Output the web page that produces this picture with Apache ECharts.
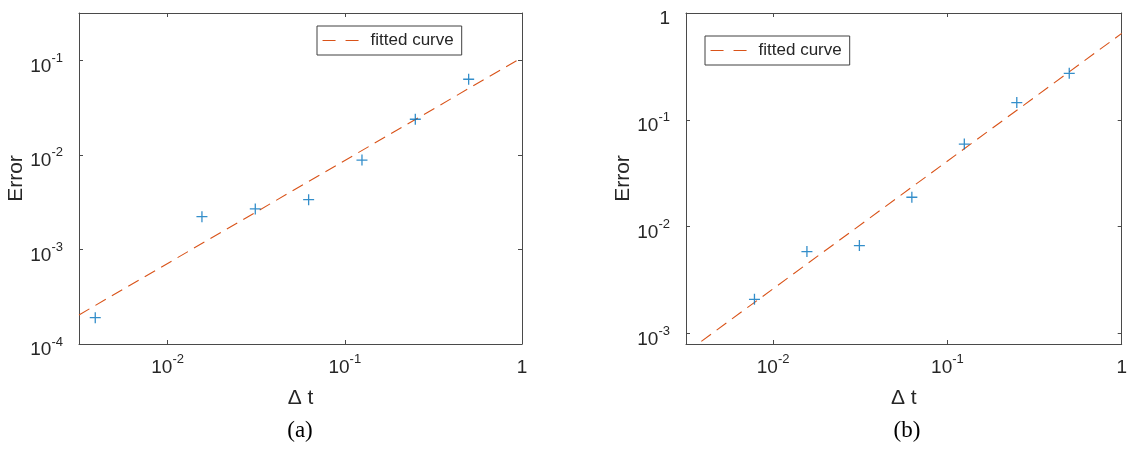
<!DOCTYPE html>
<html><head><meta charset="utf-8">
<script src="https://cdn.jsdelivr.net/npm/echarts@6/dist/echarts.min.js"></script>
<style>html,body{margin:0;padding:0;background:#fff}#c{width:1130px;height:460px}</style>
</head><body><div id="c"></div><script>
// Panel (a)
const dtA = [0.00390625, 0.015625, 0.03125, 0.0625, 0.125, 0.25, 0.5];
const errA = [1.9e-4, 2.22e-3, 2.68e-3, 3.36e-3, 8.8e-3, 0.0238, 0.063];
const fitXA = [0.0031623, 1];
const fitYA = [2.03e-4, 0.107];
// Panel (b)
const dtB = [0.0078125, 0.015625, 0.03125, 0.0625, 0.125, 0.25, 0.5];
const errB = [2.08e-3, 5.83e-3, 6.64e-3, 0.0188, 0.0592, 0.145, 0.272];
const fitXB = [0.0031623, 1];
const fitYB = [6.6e-4, 0.644];
// Axis ranges
const xRange = [0.0031623, 1];
const yRangeA = [1e-4, 0.31623];
const yRangeB = [7.943e-4, 1];
const panelLabels = ['(a)', '(b)'];
const legendName = 'fitted curve';
const xName = 'Δ t';
const yName = 'Error';

const FONT = '"Liberation Sans", Arial, Helvetica, sans-serif';
const TXT = '#262626';
const AX = '#4a4a4a';
const BLUE = '#0072BD';
const ORANGE = '#D95319';

function fmt(v) {
  const e = Math.log10(v);
  const r = Math.round(e);
  if (Math.abs(e - r) > 1e-6) return '';
  if (r === 0) return '{b|1}';
  return '{b|10}{s|' + r + '}';
}
const rich = {
  b: { fontSize: 19, fontFamily: FONT, color: TXT, verticalAlign: 'bottom', padding: [5, 0, 0, 0] },
  s: { fontSize: 13, fontFamily: FONT, color: TXT, verticalAlign: 'top' }
};
function mkX(gridIndex, pos, main, range) {
  return {
    type: 'log', logBase: 10, gridIndex, position: pos, min: range[0], max: range[1],
    axisLine: { show: true, lineStyle: { color: AX, width: 1 } },
    axisTick: { show: true, inside: true, length: 4, lineStyle: { color: AX } },
    minorTick: { show: false }, splitLine: { show: false },
    axisLabel: main ? { show: true, formatter: fmt, rich, margin: 9, showMinLabel: true, showMaxLabel: true, hideOverlap: false } : { show: false },
    name: main ? xName : '', nameLocation: 'middle', nameGap: 44,
    nameTextStyle: { fontSize: 21, fontFamily: FONT, color: TXT }
  };
}
function mkY(gridIndex, pos, main, range) {
  return {
    type: 'log', logBase: 10, gridIndex, position: pos, min: range[0], max: range[1],
    axisLine: { show: true, lineStyle: { color: AX, width: 1 } },
    axisTick: { show: true, inside: true, length: 4, lineStyle: { color: AX } },
    minorTick: { show: false }, splitLine: { show: false },
    axisLabel: main ? { show: true, formatter: fmt, rich, margin: 16, padding: [7, 0, 0, 0], hideOverlap: false } : { show: false },
    name: main ? yName : '', nameLocation: 'middle', nameGap: 52, nameRotate: 90,
    nameTextStyle: { fontSize: 21, fontFamily: FONT, color: TXT }
  };
}
const plusSymbol = 'path://M5,0L5,10M0,5L10,5';
function scatterSeries(xs, ys, xi, yi) {
  return {
    type: 'scatter', xAxisIndex: xi, yAxisIndex: yi, symbol: plusSymbol, symbolSize: 11,
    itemStyle: { color: 'rgba(0,0,0,0)', borderColor: BLUE, borderWidth: 1.3 },
    data: xs.map((x, i) => [x, ys[i]]), z: 3
  };
}
function fitSeries(xs, ys, xi, yi) {
  return {
    type: 'line', name: legendName, xAxisIndex: xi, yAxisIndex: yi, symbol: 'none', showSymbol: false,
    clip: true, lineStyle: { color: ORANGE, width: 1.1, type: [12, 7] }, itemStyle: { color: ORANGE },
    data: xs.map((x, i) => [x, ys[i]]), z: 2
  };
}
function mkLegend(left, top) {
  return {
    left, top, orient: 'vertical', data: [legendName], itemWidth: 43, itemHeight: 14,
    backgroundColor: '#fff', borderColor: '#404040', borderWidth: 1, borderRadius: 0,
    padding: [6, 8, 6, 5],
    itemStyle: { opacity: 0 },
    lineStyle: { type: [13, 10], width: 1.1, color: ORANGE },
    textStyle: { fontSize: 17, fontFamily: FONT, color: TXT },
    selectedMode: false
  };
}

const option = {
  animation: false,
  backgroundColor: '#fff',
  grid: [
    { left: 79, right: 608, top: 13, bottom: 116 },
    { left: 686, right: 1, top: 13, bottom: 116 }
  ],
  xAxis: [mkX(0, 'bottom', true, xRange), mkX(1, 'bottom', true, xRange), mkX(0, 'top', false, xRange), mkX(1, 'top', false, xRange)],
  yAxis: [mkY(0, 'left', true, yRangeA), mkY(1, 'left', true, yRangeB), mkY(0, 'right', false, yRangeA), mkY(1, 'right', false, yRangeB)],
  legend: [mkLegend(317, 26), mkLegend(705, 36)],
  series: [
    fitSeries(fitXA, fitYA, 0, 0), scatterSeries(dtA, errA, 0, 0),
    fitSeries(fitXB, fitYB, 1, 1), scatterSeries(dtB, errB, 1, 1)
  ],
  graphic: [
    { type: 'text', x: 300, y: 431, style: { text: panelLabels[0], align: 'center', verticalAlign: 'middle', font: '23px "Liberation Serif", "Times New Roman", serif', fill: '#000' } },
    { type: 'text', x: 907, y: 431, style: { text: panelLabels[1], align: 'center', verticalAlign: 'middle', font: '23px "Liberation Serif", "Times New Roman", serif', fill: '#000' } }
  ]
};
const chart = echarts.init(document.getElementById('c'));
chart.setOption(option);
</script></body></html>
